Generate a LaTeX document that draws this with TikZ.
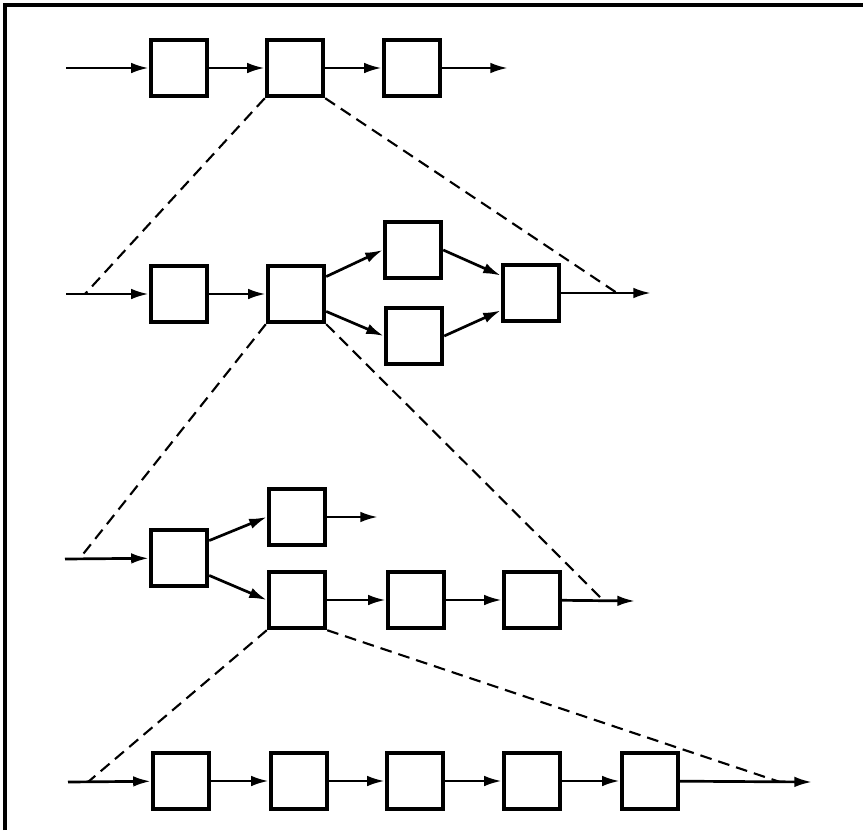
\documentclass[tikz,border=0pt]{standalone}
\usetikzlibrary{arrows.meta,positioning}

\begin{document}
\begin{tikzpicture}[x=0.03cm,y=-0.03cm,
  blk/.style={draw,line width=3.2pt,minimum width=1.7cm,minimum height=1.7cm,inner sep=0pt},
  flow/.style={-{Latex[length=15pt,width=9pt]},line width=2.3pt},
  zoomline/.style={dash pattern=on 10pt off 6pt,line width=1.8pt}]
  \useasboundingbox (0,0) rectangle (863,830);
  \draw[line width=2.6pt] (5,830) -- (5,5) -- (863,5);
  % top level
  \foreach \i/\x in {1/179,2/295,3/412}
    \node[blk] (a\i) at (\x,68) {};
  \coordinate (a-in) at (66,68);
  \coordinate (a-out) at (508,68);
  \draw[flow] (a-in) -- (a1);
  \draw[flow] (a1) -- (a2);
  \draw[flow] (a2) -- (a3);
  \draw[flow] (a3) -- (a-out);
  % second level
  \node[blk] (b1) at (179,294) {};
  \node[blk] (b2) at (296,294) {};
  \node[blk] (b3) at (413,250) {};
  \node[blk] (b4) at (414,336) {};
  \node[blk] (b5) at (531,293) {};
  \coordinate (b-in) at (66,294);
  \coordinate (b-out) at (651,293);
  \draw[flow] (b-in) -- (b1);
  \draw[flow] (b1) -- (b2);
  \draw[flow] (b2.30) -- (b3.west);
  \draw[flow] (b2.-30) -- (b4.west);
  \draw[flow] (b3.east) -- (b5.150);
  \draw[flow] (b4.east) -- (b5.-150);
  \draw[flow] (b5) -- (b-out);
  \coordinate (b-l) at (85,294);
  \coordinate (b-r) at (617,293);
  \draw[zoomline] (a2.south west) -- (b-l);
  \draw[zoomline] (a2.south east) -- (b-r);
  % third level
  \node[blk] (c1) at (179,558) {};
  \node[blk] (c2) at (297,517) {};
  \node[blk] (c3) at (297,600) {};
  \node[blk] (c4) at (416,600) {};
  \node[blk] (c5) at (532,600) {};
  \coordinate (c-in) at (65,559);
  \coordinate (c-up) at (378,517);
  \coordinate (c-out) at (635,601);
  \draw[flow] (c-in) -- (c1);
  \draw[flow] (c1.30) -- (c2.west);
  \draw[flow] (c1.-30) -- (c3.west);
  \draw[flow] (c2) -- (c-up);
  \draw[flow] (c3) -- (c4);
  \draw[flow] (c4) -- (c5);
  \draw[flow] (c5) -- (c-out);
  \coordinate (c-l) at (80,558);
  \coordinate (c-r) at (603,600);
  \draw[zoomline] (b2.south west) -- (c-l);
  \draw[zoomline] (b2.south east) -- (c-r);
  % bottom level
  \foreach \i/\x in {1/181,2/299,3/415,4/532,5/650}
    \node[blk] (d\i) at (\x,781) {};
  \coordinate (d-in) at (68,782);
  \coordinate (d-out) at (812,782);
  \draw[flow] (d-in) -- (d1);
  \foreach \i [evaluate=\i as \j using int(\i+1)] in {1,...,4}
    \draw[flow] (d\i) -- (d\j);
  \draw[flow] (d5) -- (d-out);
  \coordinate (d-l) at (88,782);
  \coordinate (d-r) at (780,782);
  \draw[zoomline] (c3.south west) -- (d-l);
  \draw[zoomline] (c3.south east) -- (d-r);
\end{tikzpicture}
\end{document}
